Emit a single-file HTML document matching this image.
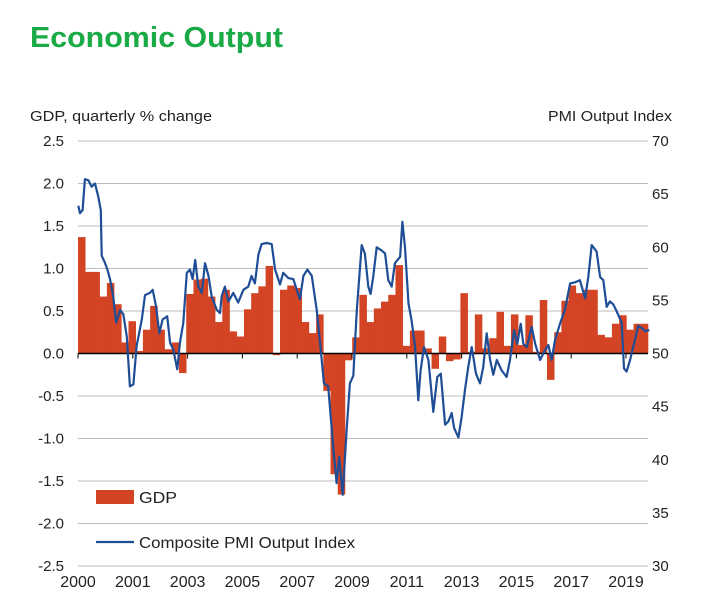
<!DOCTYPE html>
<html><head><meta charset="utf-8"><style>
body{margin:0;background:#fff;font-family:"Liberation Sans",sans-serif;}
svg text{font-family:"Liberation Sans",sans-serif;}
</style></head><body>
<svg id="chart" width="708" height="610">
<text x="30" y="47" font-size="29" font-weight="bold" fill="#1aaa46" textLength="253" lengthAdjust="spacingAndGlyphs">Economic Output</text>
<text x="30" y="121" font-size="15" fill="#222" textLength="182" lengthAdjust="spacingAndGlyphs">GDP, quarterly  % change</text>
<text x="548" y="121" font-size="15" fill="#222" textLength="124" lengthAdjust="spacingAndGlyphs">PMI Output Index</text>
<g id="grid"></g><g id="bars"></g><g id="zero"></g><g id="line"></g><g id="axes"></g>
<g>
<rect x="96" y="490" width="38" height="14" fill="#d24424"/>
<text x="139" y="503" font-size="16" fill="#222" textLength="38" lengthAdjust="spacingAndGlyphs">GDP</text>
<line x1="96" y1="542" x2="134" y2="542" stroke="#1f4e96" stroke-width="2.2"/>
<text x="139" y="548" font-size="16" fill="#222" textLength="216" lengthAdjust="spacingAndGlyphs">Composite PMI Output Index</text>
</g>
</svg>
<script>
const gdpValues=[1.37,0.96,0.96,0.67,0.83,0.58,0.13,0.38,0.03,0.28,0.56,0.28,0.05,0.13,-0.23,0.70,0.87,0.88,0.67,0.37,0.75,0.26,0.20,0.52,0.71,0.79,1.03,-0.02,0.75,0.80,0.77,0.37,0.24,0.46,-0.44,-1.42,-1.66,-0.08,
0.19,0.69,0.37,0.53,0.61,0.69,1.04,0.09,0.27,0.27,0.06,-0.18,0.20,-0.09,-0.07,0.71,0.02,0.46,0.06,0.18,0.49,0.09,0.46,0.10,0.45,0.02,0.63,-0.31,0.25,0.62,0.80,0.71,0.75,0.75,0.22,0.19,0.35,0.45,0.28,0.35,0.35];
const pmiDates=[2000.01,2000.07,2000.16,2000.24,2000.36,2000.47,2000.59,2000.70,2000.79,2000.82,2000.94,2001.02,2001.11,2001.22,2001.32,2001.46,2001.57,2001.69,2001.80,2001.92,2002.03,2002.21,2002.32,2002.49,2002.59,2002.70,2002.82,2002.93,2003.09,2003.19,2003.30,2003.44,2003.53,2003.65,2003.77,2003.88,2003.97,2004.06,2004.17,2004.29,2004.40,2004.52,2004.63,2004.81,2004.92,2004.98,2005.09,2005.21,2005.38,2005.55,2005.73,2005.90,2006.01,2006.13,2006.25,2006.36,2006.54,2006.71,2006.83,2007.00,2007.11,2007.29,2007.46,2007.69,2007.81,2007.95,2008.10,2008.27,2008.41,2008.52,2008.67,2008.85,2008.96,2009.05,2009.17,2009.31,2009.42,2009.54,
2009.66,2009.83,2009.94,2010.06,2010.14,2010.23,2010.35,2010.52,2010.64,2010.75,2010.87,2010.98,2011.16,2011.24,2011.33,2011.45,2011.56,2011.68,2011.79,2011.87,2011.99,2012.14,2012.31,2012.45,2012.57,2012.72,2012.83,2012.95,2013.03,2013.18,2013.29,2013.41,2013.52,2013.64,2013.79,2013.93,2014.04,2014.16,2014.28,2014.39,2014.51,2014.68,2014.85,2014.97,2015.11,2015.22,2015.34,2015.43,2015.55,2015.72,2015.84,2016.01,2016.18,2016.30,2016.41,2016.53,2016.70,2016.87,2017.05,2017.22,2017.39,2017.57,2017.68,2017.80,2017.97,2018.09,2018.20,2018.32,2018.43,2018.55,2018.66,2018.84,2018.92,2019.01,2019.13,2019.30,2019.41,2019.53,2019.65,2019.80];
const pmiValues=[63.9,63.2,63.5,66.4,66.3,65.7,66.0,64.8,63.5,59.2,58.5,57.9,57.0,55.4,52.9,54.1,53.7,51.6,46.9,47.1,50.7,53.2,55.5,55.7,56.0,54.5,51.9,53.2,53.5,51.0,50.4,48.5,51.0,52.9,57.6,57.9,57.0,58.8,56.3,55.7,58.5,57.3,55.4,54.1,53.8,55.4,56.3,54.9,55.7,54.8,56.0,56.3,57.3,56.6,59.3,60.3,60.4,60.3,57.9,56.5,57.6,57.1,57.0,55.1,57.3,57.9,57.3,54.1,50.4,47.2,46.9,41.0,37.8,40.3,36.7,42.9,47.2,47.9,
54.1,60.2,59.4,56.3,55.6,57.2,60.0,59.7,59.4,56.9,56.3,58.5,59.1,62.4,60.0,54.7,53.1,50.6,45.6,48.4,50.6,49.4,44.5,47.8,48.1,43.3,43.6,44.4,43.0,42.1,44.0,46.6,48.7,50.6,48.1,47.2,48.7,51.9,49.4,48.0,49.4,48.4,47.8,49.4,52.2,50.9,52.8,50.9,50.6,52.5,50.9,49.4,50.3,50.8,49.4,51.3,52.8,54.1,56.6,56.7,56.9,55.2,57.2,60.2,59.6,57.2,56.9,54.4,54.9,54.6,54.0,52.9,48.6,48.3,49.4,51.3,52.6,52.4,52.1,52.2];
const leftTicks=["2.5","2.0","1.5","1.0","0.5","0.0","-0.5","-1.0","-1.5","-2.0","-2.5"];
const leftTickValues=[2.5,2.0,1.5,1.0,0.5,0.0,-0.5,-1.0,-1.5,-2.0,-2.5];
const rightTicks=[70,65,60,55,50,45,40,35,30];
const xLabels=["2000","2001","2003","2005","2007","2009","2011","2013","2015","2017","2019"];

const NS="http://www.w3.org/2000/svg";
const L=78,R=648,T=141,B=566;
const yL=v=>T+(2.5-v)/5*(B-T);
const yR=v=>T+(70-v)/40*(B-T);
const qW=(R-L)/gdpValues.length;
const xQ=i=>L+i*qW;
const xT=t=>L+(t-2000)*qW*4;
const xTick=i=>L+i*54.8;
function mk(tag,attrs,parent){const e=document.createElementNS(NS,tag);for(const k in attrs)e.setAttribute(k,attrs[k]);document.getElementById(parent).appendChild(e);return e;}

leftTickValues.forEach((v,i)=>{
  if(v!==0){const g=mk('line',{x1:L,x2:R,y1:yL(v),y2:yL(v),stroke:'#bdbdbd','stroke-width':1},'grid');
  
  }
  const t=mk('text',{x:64,y:yL(v)+5,'font-size':15,'text-anchor':'end',fill:'#222'},'axes');
  t.textContent=leftTicks[i];
  
  
});
rightTicks.forEach(v=>{
  const t=mk('text',{x:652,y:yR(v)+5,'font-size':15,fill:'#222'},'axes');
  t.textContent=v;
  
  
});
gdpValues.forEach((v,i)=>{
  const y0=yL(0),y1=yL(v);
  const b=mk('rect',{x:xQ(i),y:Math.min(y0,y1),width:qW+0.3,height:Math.max(0.8,Math.abs(y1-y0)),fill:'#d24424'},'bars');
  
  
});
const z=mk('line',{x1:L,x2:R,y1:yL(0),y2:yL(0),stroke:'#000','stroke-width':1.5},'zero');


xLabels.forEach((s,i)=>{
  const tk=mk('line',{x1:xTick(i),x2:xTick(i),y1:yL(0),y2:yL(0)+5,stroke:'#000','stroke-width':1},'zero');
  
  
  const t=mk('text',{x:xTick(i),y:587,'font-size':16,'text-anchor':'middle',fill:'#222'},'axes');
  t.textContent=s;
  
  
});
const pts=pmiDates.map((t,i)=>xT(t).toFixed(1)+','+yR(pmiValues[i]).toFixed(1)).join(' ');
const pl=mk('polyline',{points:pts,fill:'none',stroke:'#1f4e96','stroke-width':2.2,'stroke-linejoin':'round'},'line');


</script>
</body></html>
